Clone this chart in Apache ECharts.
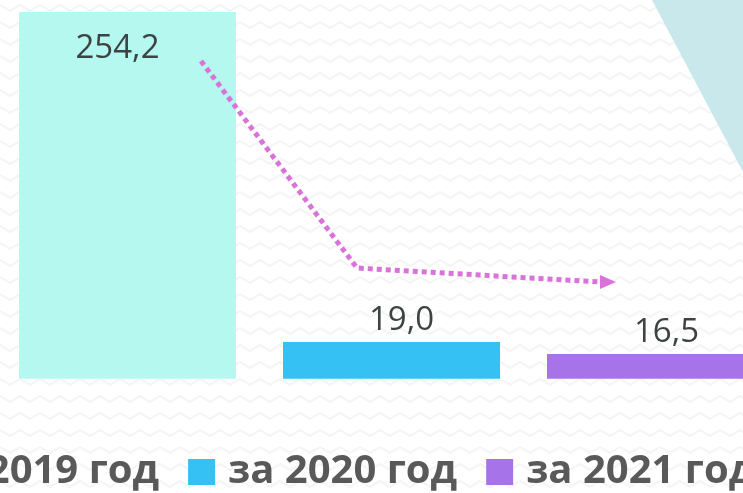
<!DOCTYPE html>
<html>
<head>
<meta charset="utf-8">
<title>chart</title>
<script src="https://cdn.jsdelivr.net/npm/echarts@6/dist/echarts.min.js"></script>
<style>
  html, body { margin: 0; padding: 0; background: #fff; }
  #chart { width: 743px; height: 493px; }
</style>
</head>
<body>
<div id="chart"></div>
<script>
  // data
  const categories = ['за 2019 год', 'за 2020 год', 'за 2021 год']
  const values = [254.2, 19.0, 16.5]
  const labels = ['254,2', '19,0', '16,5']
  const colors = ['#b4f8f0', '#35c1f3', '#a773e8']

  // faint zigzag background tile
  function zigzagTile() {
    const c = document.createElement('canvas')
    c.width = 20
    c.height = 17
    const ctx = c.getContext('2d')
    ctx.fillStyle = '#ffffff'
    ctx.fillRect(0, 0, 20, 17)
    ctx.strokeStyle = '#f5f5f5'
    ctx.lineWidth = 2.2
    ctx.lineJoin = 'round'
    ctx.beginPath()
    ctx.moveTo(-5, 10)
    ctx.lineTo(0, 5)
    ctx.lineTo(10, 11)
    ctx.lineTo(20, 5)
    ctx.lineTo(25, 10)
    ctx.stroke()
    return c
  }

  const chart = echarts.init(document.getElementById('chart'))

  const series = categories.map(function (name, i) {
    return {
      name: name,
      type: 'bar',
      barWidth: 217,
      barGap: '-100%',
      itemStyle: { color: colors[i] },
      label: {
        show: true,
        position: i === 0 ? 'insideTop' : 'top',
        distance: i === 0 ? 20 : 5,
        offset: i === 0 ? [-10, 0] : [i === 1 ? 10 : 11, 0],
        fontFamily: 'Open Sans',
        fontSize: 33,
        color: '#3d4343',
        formatter: function () { return labels[i] }
      },
      data: categories.map(function (c, j) { return j === i ? values[i] : null })
    }
  })

  chart.setOption({
    animation: false,
    graphic: [
      {
        type: 'rect', z: -10, silent: true,
        shape: { x: 0, y: 0, width: 743, height: 493 },
        style: { fill: { image: zigzagTile(), repeat: 'repeat' } }
      },
      {
        type: 'polygon', z: -5, silent: true,
        shape: { points: [[652, 0], [743, 0], [743, 172]] },
        style: { fill: '#c8e8ec' }
      },
      {
        type: 'polyline', z: 10, silent: true,
        shape: { points: [[201, 61], [357, 268], [600, 282]] },
        style: { stroke: '#d973d9', lineWidth: 5, lineDash: [5, 4], fill: null }
      },
      {
        type: 'polygon', z: 10, silent: true,
        shape: { points: [[600, 275], [616, 282], [600, 289]] },
        style: { fill: '#d973d9' }
      }
    ],
    legend: {
      data: categories,
      left: -115,
      top: 442,
      width: 1200,
      icon: 'rect',
      itemWidth: 27,
      itemHeight: 26,
      itemGap: 29,
      textStyle: {
        fontFamily: 'Open Sans',
        fontWeight: 'bold',
        fontSize: 40,
        lineHeight: 50,
        color: '#595959',
        padding: [0, 0, 0, 8]
      }
    },
    grid: {
      left: -4.5,
      width: 792,
      top: 12,
      bottom: 114.3,
      outerBoundsMode: 'none',
      containLabel: false
    },
    xAxis: {
      type: 'category',
      data: categories,
      show: false
    },
    yAxis: {
      type: 'value',
      show: false,
      min: 11.35,
      max: 254.2,
      breaks: [{ start: 40, end: 216.45, gap: 10 }],
      breakArea: {
        show: false,
        itemStyle: { color: 'rgba(0,0,0,0)', borderWidth: 0, opacity: 0 }
      },
      splitLine: { show: false }
    },
    series: series
  })
</script>
</body>
</html>
